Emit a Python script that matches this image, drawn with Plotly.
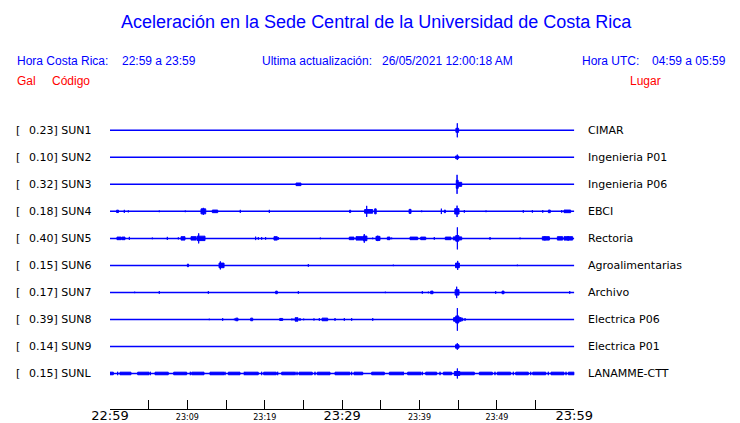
import plotly.graph_objects as go

# ---------------- data ----------------
station_codes = ["SUN1", "SUN2", "SUN3", "SUN4", "SUN5", "SUN6", "SUN7", "SUN8", "SUN9", "SUNL"]
station_gal = ["0.23", "0.10", "0.32", "0.18", "0.40", "0.15", "0.17", "0.39", "0.14", "0.15"]
station_places = ["CIMAR", "Ingenieria P01", "Ingenieria P06", "EBCI", "Rectoria",
                  "Agroalimentarias", "Archivo", "Electrica P06", "Electrica P01", "LANAMME-CTT"]

# time axis: minutes after 22:59 (Costa Rica time)
start_hour, start_minute = 22, 59
window_minutes = 60
tick_step = 5

# events per station: (start minute, end minute, half amplitude in px)
events_SUN1 = [(44.70, 45.05, 2.0), (44.88, 44.88, 7.0)]
events_SUN2 = [(44.65, 45.05, 1.3), (44.88, 44.88, 2.7)]
events_SUN3 = [(24.04, 24.68, 1.3), (44.75, 45.00, 4.0), (45.00, 45.45, 2.0), (44.85, 44.85, 9.5)]
events_SUN4 = [(0.85, 1.10, 1.2), (1.85, 1.85, 1.5), (2.37, 2.37, 1.0), (6.37, 6.37, 0.8),
               (9.73, 9.73, 0.8), (11.76, 12.37, 2.5), (12.06, 12.06, 3.5), (13.22, 13.92, 1.3),
               (16.84, 16.84, 1.5), (20.59, 20.59, 1.5), (30.95, 31.10, 1.2), (32.90, 33.95, 1.8),
               (33.17, 33.17, 5.5), (34.20, 34.40, 2.5), (38.65, 38.90, 2.0), (40.28, 40.28, 0.8),
               (42.82, 42.82, 2.7), (43.20, 43.35, 1.3), (44.55, 45.10, 2.7), (44.85, 44.85, 5.7),
               (45.79, 45.79, 1.3), (48.59, 48.59, 0.8), (53.41, 53.41, 1.3), (54.58, 54.58, 1.3),
               (55.92, 55.92, 1.3), (56.65, 56.90, 1.3), (58.37, 58.37, 1.3), (58.67, 59.53, 1.3)]
events_SUN5 = [(0.90, 1.42, 1.3), (1.51, 1.94, 1.3), (2.50, 2.50, 1.5), (5.47, 5.47, 0.8),
               (7.41, 7.41, 1.5), (8.83, 8.83, 1.0), (9.18, 9.69, 1.7), (10.47, 11.11, 1.7),
               (11.24, 12.28, 2.2), (11.46, 11.46, 5.0), (18.82, 18.82, 1.7), (19.17, 19.17, 1.3),
               (19.60, 19.60, 1.3), (20.11, 20.11, 1.3), (21.19, 21.62, 1.7), (21.75, 21.75, 1.3),
               (27.18, 27.18, 0.8), (30.92, 31.53, 1.3), (31.79, 32.65, 1.7), (32.86, 32.86, 4.3),
               (32.70, 33.20, 2.3), (33.95, 33.95, 0.8), (34.37, 34.89, 2.0), (34.60, 34.60, 2.7),
               (35.84, 36.18, 1.3), (36.40, 36.40, 0.8), (38.77, 39.76, 1.3), (40.15, 40.80, 1.3),
               (41.91, 41.91, 1.3), (43.33, 44.07, 1.3), (44.35, 45.45, 1.5), (44.68, 45.08, 2.8),
               (44.89, 44.89, 11.0),
               (49.11, 49.11, 1.3), (52.99, 52.99, 0.8), (55.87, 56.78, 1.7), (56.20, 56.20, 2.0),
               (57.81, 58.50, 1.7), (58.67, 59.79, 1.7), (59.20, 59.20, 2.3)]
events_SUN6 = [(10.00, 10.15, 1.3), (14.09, 14.74, 2.3), (14.26, 14.26, 4.0), (25.63, 25.63, 1.3),
               (36.61, 36.61, 0.7), (44.65, 45.15, 2.3), (44.93, 44.93, 4.5), (52.64, 52.64, 0.7)]
events_SUN7 = [(3.19, 3.19, 0.7), (6.37, 6.37, 1.3), (12.71, 12.71, 1.3), (21.41, 21.62, 1.3),
               (24.34, 24.34, 1.3), (35.58, 35.58, 0.7), (40.36, 40.36, 1.3), (41.14, 41.14, 0.8),
               (41.44, 41.74, 1.3), (44.60, 45.10, 2.7), (44.80, 44.80, 5.7), (49.84, 49.84, 1.3),
               (50.66, 50.92, 1.3), (59.41, 59.41, 1.3)]
events_SUN8 = [(12.83, 12.83, 0.7), (14.56, 14.56, 1.3), (16.07, 16.07, 0.8), (16.24, 16.54, 1.3),
               (18.18, 18.44, 1.3), (21.93, 22.32, 1.0), (23.48, 23.48, 0.8), (23.65, 23.65, 0.8),
               (23.91, 24.30, 1.7), (24.55, 24.55, 1.3), (25.03, 25.03, 0.8), (26.36, 26.36, 1.0),
               (27.05, 27.05, 1.3), (27.40, 28.13, 1.3), (29.08, 29.08, 1.3), (30.28, 30.28, 1.3),
               (31.23, 31.23, 1.3), (33.95, 33.95, 1.3), (44.40, 45.40, 1.8), (44.68, 45.08, 3.5),
               (44.89, 44.89, 11.3), (45.50, 45.60, 1.3),
               (45.88, 45.88, 1.3)]
events_SUN9 = [(44.65, 45.10, 1.7), (44.88, 44.88, 3.3)]
events_SUNL = [(0.00, 0.43, 1.3), (1.29, 2.71, 1.3), (3.58, 5.04, 1.3), (5.82, 7.53, 1.3),
               (8.23, 9.91, 1.3), (10.56, 12.15, 1.3), (12.92, 14.73, 1.3), (15.29, 16.80, 1.3),
               (17.45, 19.16, 1.3), (19.86, 21.49, 1.3), (22.19, 23.82, 1.3), (24.42, 26.14, 1.3),
               (26.79, 28.43, 1.3), (29.08, 31.00, 1.3), (31.53, 32.66, 1.3), (33.82, 35.45, 1.3),
               (36.10, 37.83, 1.3), (38.47, 40.19, 1.3), (40.80, 42.22, 1.3), (43.08, 44.16, 1.3),
               (45.01, 47.08, 1.3), (47.73, 49.41, 1.3), (50.05, 51.78, 1.3), (52.43, 54.06, 1.3),
               (54.63, 56.31, 1.3), (56.99, 58.67, 1.3), (59.23, 60.00, 1.3),
               (44.50, 45.20, 2.0), (44.89, 44.89, 5.0),
               (0.99, 0.99, 1.7), (5.21, 5.21, 1.7), (10.38, 10.38, 1.7), (14.86, 14.86, 1.7),
               (17.36, 17.36, 1.7), (19.60, 19.60, 1.7), (21.67, 21.67, 1.7), (23.91, 23.91, 1.7),
               (24.17, 24.17, 1.7), (26.49, 26.49, 1.7), (31.23, 31.23, 1.7), (37.90, 37.90, 1.7),
               (40.36, 40.36, 1.7), (42.65, 42.65, 1.7), (49.75, 49.75, 1.7), (52.12, 52.12, 1.7),
               (54.37, 54.37, 1.7), (56.64, 56.64, 1.7), (58.93, 58.93, 1.7)]
station_events = [events_SUN1, events_SUN2, events_SUN3, events_SUN4, events_SUN5,
                  events_SUN6, events_SUN7, events_SUN8, events_SUN9, events_SUNL]

title_text = "Aceleración en la Sede Central de la Universidad de Costa Rica"
header_cr = ("Hora Costa Rica:", "22:59 a 23:59")
header_upd = ("Ultima actualización:", "26/05/2021 12:00:18 AM")
header_utc = ("Hora UTC:", "04:59 a 05:59")

# ---------------- layout constants ----------------
OFF = 8                     # page body margin of the browser
W, H = 740 - OFF, 423 - OFF
BLUE = "#0000ff"
RED = "#ff0000"
PLOT_BOTTOM = 409 - OFF     # px, axis line
ROW0_PX, ROW_PX = 130.3 - OFF, 27.02
X0_PX, X1_PX = 110 - OFF, 574.3 - OFF
TXT_FONT = "DejaVu Sans"
HDR_FONT = "Liberation Sans"

def px_x(px):  # reference pixel x -> paper x
    return (px - OFF) / W

def px_y(py):  # reference pixel y -> paper y
    return (PLOT_BOTTOM - (py - OFF)) / PLOT_BOTTOM

fig = go.Figure()

for i, (code, evs) in enumerate(zip(station_codes, station_events)):
    fig.add_trace(go.Scatter(x=[0, window_minutes], y=[i, i], mode="lines",
                             line=dict(color=BLUE, width=1.5), hoverinfo="skip",
                             showlegend=False))
    xs, ys = [], []
    for t0, t1, a in evs:
        h = a / ROW_PX
        xs += [t0, t1, t1, t0, t0, None]
        ys += [i - h, i - h, i + h, i + h, i - h, None]
    fig.add_trace(go.Scatter(x=xs, y=ys, mode="lines", fill="toself", fillcolor=BLUE,
                             line=dict(color=BLUE, width=1), hoverinfo="skip",
                             showlegend=False))

# tick labels
tickvals = list(range(0, window_minutes + 1, tick_step))
ticktext = []
for m in tickvals:
    tot = start_hour * 60 + start_minute + m
    lab = f"{(tot // 60) % 24:02d}:{tot % 60:02d}"
    if m % 30 == 0:
        ticktext.append(f"<span style='font-size:13px'>{lab}</span>")
    elif m % 10 == 0:
        ticktext.append(lab)
    else:
        ticktext.append("")

anns = []
# station labels
for i, (code, gal, place) in enumerate(zip(station_codes, station_gal, station_places)):
    anns.append(dict(x=px_x(14), y=i, xref="paper", yref="y", text="[", showarrow=False,
                     xanchor="left", yanchor="middle", font=dict(family=TXT_FONT, size=11, color="black")))
    anns.append(dict(x=px_x(27), y=i, xref="paper", yref="y", text=f"{gal}] {code}", showarrow=False,
                     xanchor="left", yanchor="middle", font=dict(family=TXT_FONT, size=11, color="black")))
    anns.append(dict(x=px_x(586), y=i, xref="paper", yref="y", text=place, showarrow=False,
                     xanchor="left", yanchor="middle", font=dict(family=TXT_FONT, size=11, color="black")))

# title & header
anns.append(dict(x=px_x(376), y=px_y(22), xref="paper", yref="paper", text=title_text, showarrow=False,
                 xanchor="center", yanchor="middle", font=dict(family=HDR_FONT, size=18, color=BLUE)))
for txt, xp in [(header_cr[0], 15), (header_cr[1], 120), (header_upd[0], 260), (header_upd[1], 380),
                (header_utc[0], 580), (header_utc[1], 650)]:
    anns.append(dict(x=px_x(xp), y=px_y(61), xref="paper", yref="paper", text=txt, showarrow=False,
                     xanchor="left", yanchor="middle", font=dict(family=HDR_FONT, size=12, color=BLUE)))
for txt, xp in [("Gal", 15), ("Código", 50), ("Lugar", 628)]:
    anns.append(dict(x=px_x(xp), y=px_y(81), xref="paper", yref="paper", text=txt, showarrow=False,
                     xanchor="left", yanchor="middle", font=dict(family=HDR_FONT, size=12, color=RED)))

top_units = -ROW0_PX / ROW_PX
bot_units = (PLOT_BOTTOM - ROW0_PX) / ROW_PX

fig.update_layout(
    width=W, height=H,
    margin=dict(l=0, r=0, t=0, b=H - PLOT_BOTTOM, pad=0),
    paper_bgcolor="white", plot_bgcolor="white",
    showlegend=False,
    annotations=anns,
    xaxis=dict(domain=[X0_PX / W, X1_PX / W], range=[0, window_minutes],
               showgrid=False, zeroline=False, showline=True, linecolor="black", linewidth=1,
               ticks="inside", ticklen=9, tickcolor="black", tickwidth=1,
               tickvals=tickvals, ticktext=ticktext, tickangle=0,
               tickfont=dict(family=TXT_FONT, size=8, color="black"), automargin=False),
    yaxis=dict(range=[bot_units, top_units], visible=False, fixedrange=True),
)

fig.write_html("out.html")
